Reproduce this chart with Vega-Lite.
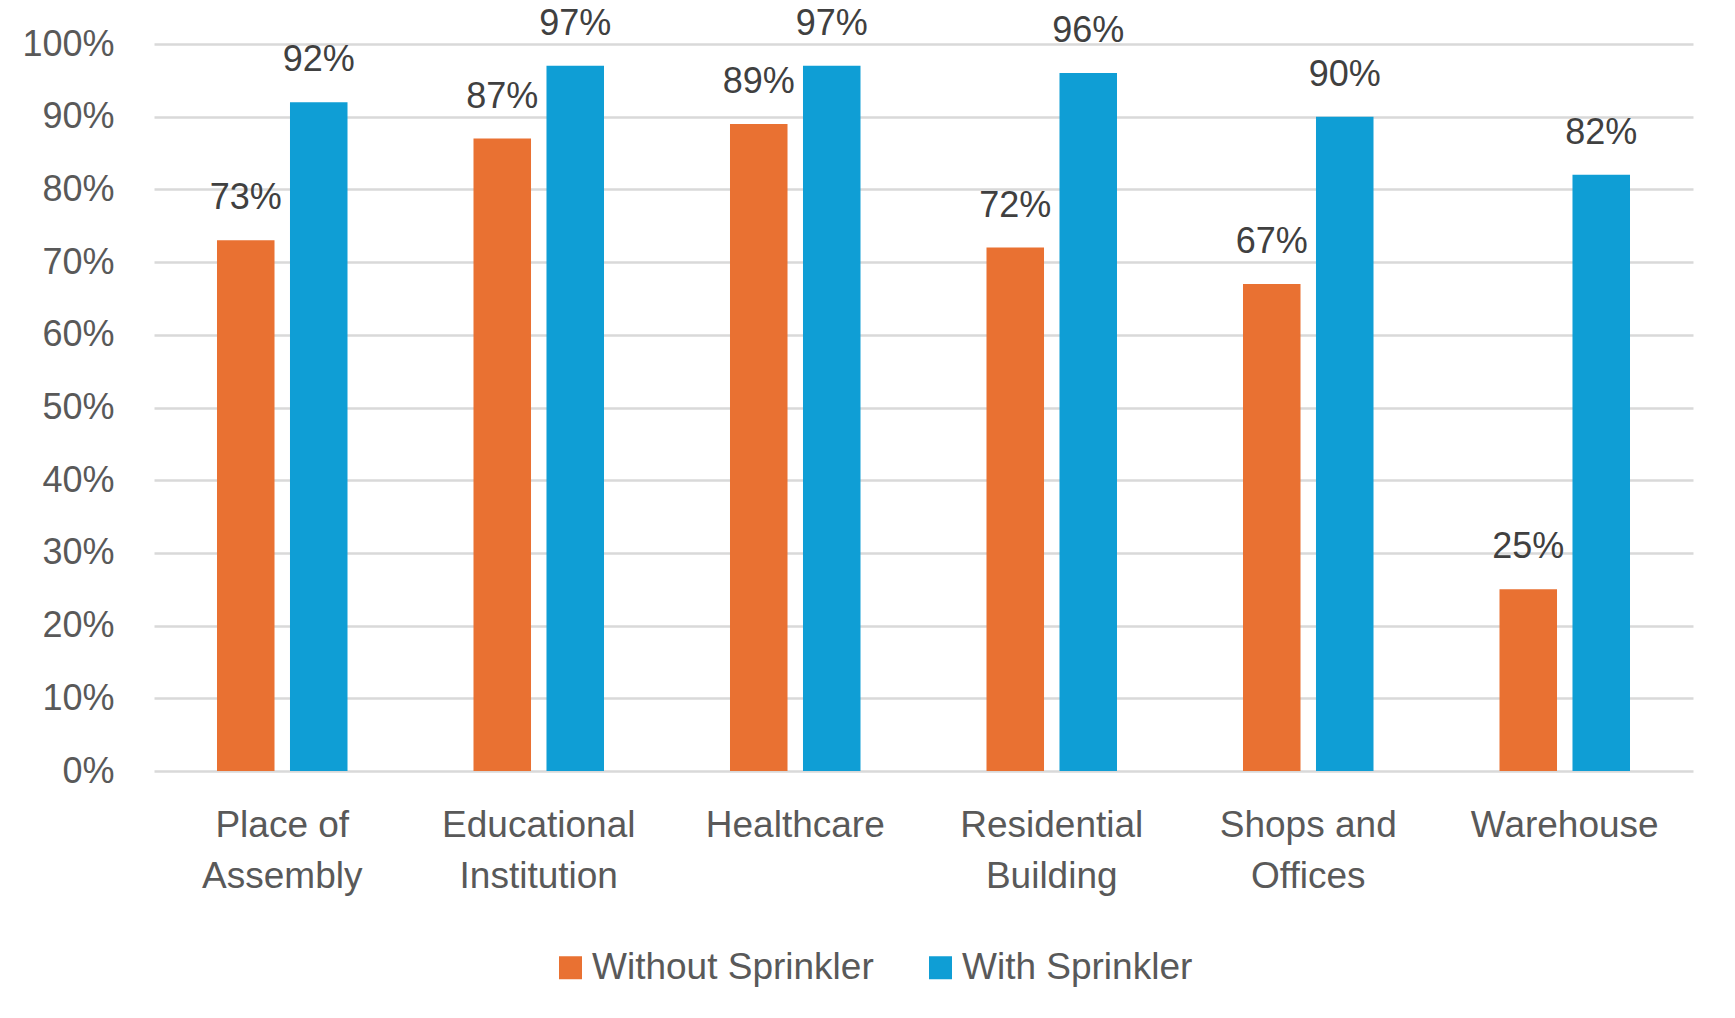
{
  "$schema": "https://vega.github.io/schema/vega-lite/v6.json",
  "width": 1539,
  "height": 727,
  "autosize": {"type": "none"},
  "padding": {"left": 154, "top": 44, "right": 42, "bottom": 247},
  "background": "white",
  "config": {"view": {"stroke": null}, "font": "Liberation Sans"},
  "data": {
    "values": [
      {"category": "Place of Assembly", "series": "Without Sprinkler", "value": 0.73},
      {"category": "Place of Assembly", "series": "With Sprinkler", "value": 0.92},
      {"category": "Educational Institution", "series": "Without Sprinkler", "value": 0.87},
      {"category": "Educational Institution", "series": "With Sprinkler", "value": 0.97},
      {"category": "Healthcare", "series": "Without Sprinkler", "value": 0.89},
      {"category": "Healthcare", "series": "With Sprinkler", "value": 0.97},
      {"category": "Residential Building", "series": "Without Sprinkler", "value": 0.72},
      {"category": "Residential Building", "series": "With Sprinkler", "value": 0.96},
      {"category": "Shops and Offices", "series": "Without Sprinkler", "value": 0.67},
      {"category": "Shops and Offices", "series": "With Sprinkler", "value": 0.90},
      {"category": "Warehouse", "series": "Without Sprinkler", "value": 0.25},
      {"category": "Warehouse", "series": "With Sprinkler", "value": 0.82}
    ]
  },
  "encoding": {
    "x": {
      "field": "category",
      "type": "nominal",
      "sort": null,
      "scale": {"paddingInner": 0, "paddingOuter": 0},
      "axis": {
        "title": null,
        "domain": false,
        "ticks": false,
        "labelAngle": 0,
        "labelFontSize": 37,
        "labelColor": "#595959",
        "labelPadding": 36,
        "labelLineHeight": 51,
        "labelLimit": 400,
        "labelExpr": "lastindexof(datum.label, ' ') > 0 ? [substring(datum.label, 0, lastindexof(datum.label, ' ')), substring(datum.label, lastindexof(datum.label, ' ') + 1)] : datum.label"
      }
    },
    "xOffset": {
      "field": "series",
      "type": "nominal",
      "sort": ["Without Sprinkler", "With Sprinkler"],
      "scale": {"paddingInner": 0.212, "paddingOuter": 0.863}
    },
    "y": {
      "field": "value",
      "type": "quantitative",
      "scale": {"domain": [0, 1]},
      "axis": {
        "title": null,
        "format": ".0%",
        "values": [0, 0.1, 0.2, 0.3, 0.4, 0.5, 0.6, 0.7, 0.8, 0.9, 1],
        "labelOverlap": false,
        "domain": false,
        "ticks": false,
        "labelFontSize": 36,
        "labelColor": "#595959",
        "labelPadding": 40,
        "gridColor": "#D9D9D9",
        "gridWidth": 2.5
      }
    }
  },
  "layer": [
    {
      "mark": {"type": "bar"},
      "encoding": {
        "color": {
          "field": "series",
          "type": "nominal",
          "sort": ["Without Sprinkler", "With Sprinkler"],
          "scale": {"domain": ["Without Sprinkler", "With Sprinkler"], "range": ["#E97132", "#0F9ED5"]},
          "legend": {
            "title": null,
            "orient": "none",
            "direction": "horizontal",
            "legendX": 398,
            "legendY": 905,
            "symbolType": "square",
            "symbolSize": 529,
            "symbolStrokeWidth": 0,
            "symbolOpacity": 1,
            "labelFontSize": 37,
            "labelColor": "#595959",
            "labelOffset": 3,
            "labelLimit": 400,
            "columnPadding": 48
          }
        }
      }
    },
    {
      "mark": {"type": "text", "baseline": "alphabetic", "dy": -31, "fontSize": 36, "color": "#404040"},
      "encoding": {
        "text": {"field": "value", "type": "quantitative", "format": ".0%"}
      }
    }
  ]
}
